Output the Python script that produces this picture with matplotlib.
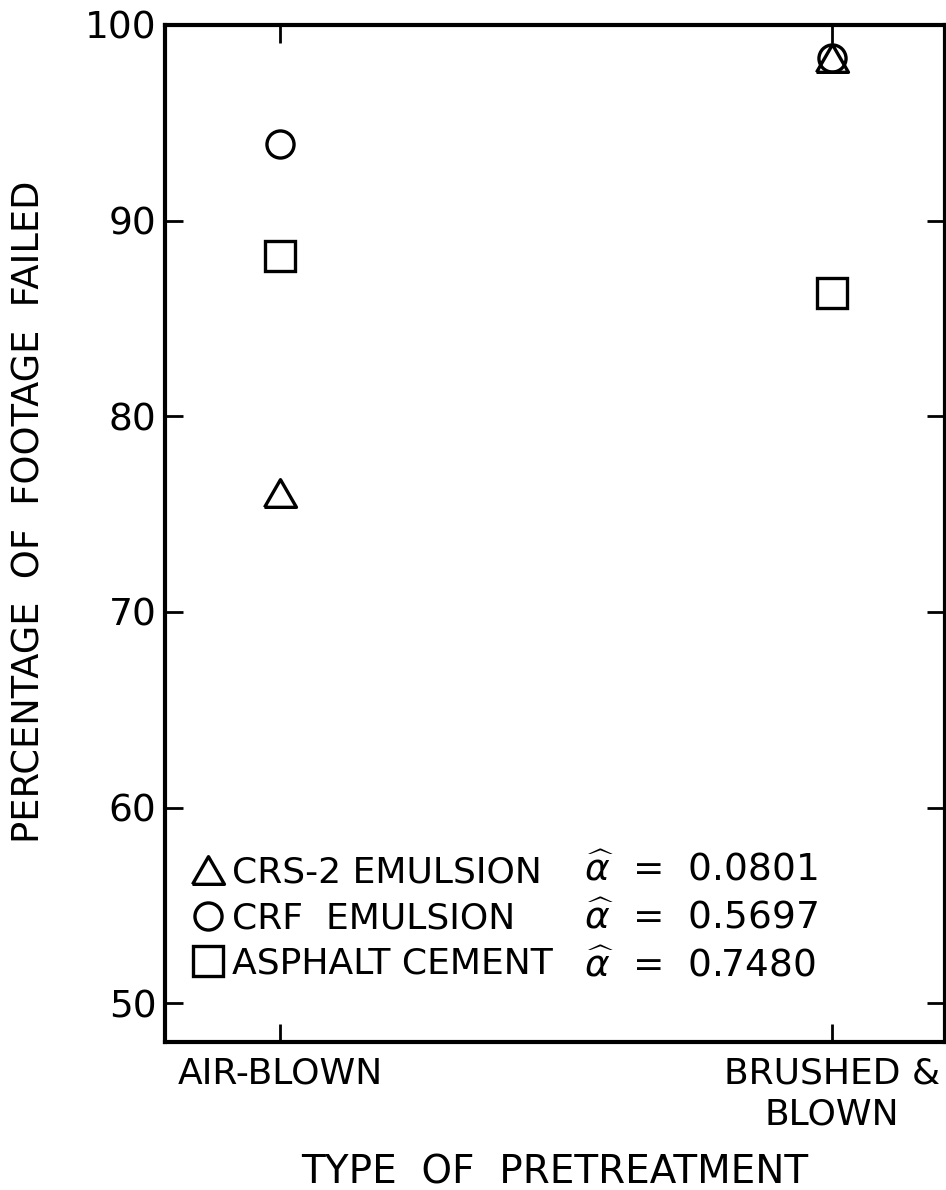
import numpy as np
import matplotlib.pyplot as plt
from matplotlib.lines import Line2D

plt.rcParams['font.family'] = ['DejaVu Sans']

# data
treatments = ['AIR-BLOWN', 'BRUSHED &\nBLOWN']
x_pos = [1, 2]
crs2 = [76.1, 98.3]       # triangle
crf = [93.9, 98.3]        # circle
asphalt = [88.2, 86.3]    # square
series_names = ['CRS-2 EMULSION', 'CRF  EMULSION', 'ASPHALT CEMENT']
alpha_hat = ['0.0801', '0.5697', '0.7480']
yticks = [50, 60, 70, 80, 90, 100]

# equilateral triangle like the hand-drawn one
tri = [(-1, -0.866), (1, -0.866), (0, 0.866), (-1, -0.866)]
markers = [(tri, 23), ('o', 19.5), ('s', 21)]

fig = plt.figure(figsize=(9.46, 11.9), dpi=100)
ax = fig.add_axes([0.174, 0.124, 0.825, 0.855])

mk = dict(linestyle='none', markerfacecolor='none', markeredgecolor='black',
          markeredgewidth=2.4)
for ys, (m, s) in zip([crs2, crf, asphalt], markers):
    ax.plot(x_pos, ys, marker=m, markersize=s, clip_on=False, **mk)

ax.set_xlim(0.79, 2.205)
ax.set_ylim(48, 100)
ax.set_yticks(yticks)
ax.set_xticks(x_pos)
ax.set_xticklabels(treatments, fontsize=26, linespacing=1.25)
ax.tick_params(axis='y', labelsize=27, pad=6)
ax.tick_params(axis='x', pad=10)
ax.tick_params(direction='in', length=13, width=2, top=True, right=True)
for s in ax.spines.values():
    s.set_linewidth(3)

ax.set_ylabel('PERCENTAGE  OF  FOOTAGE  FAILED', fontsize=26.5)
ax.yaxis.set_label_coords(-0.150, 0.522)
ax.set_xlabel('TYPE  OF  PRETREATMENT', fontsize=28, va='center')
ax.xaxis.set_label_coords(0.5, -0.128)

handles = [Line2D([], [], marker=m, markersize=s, **mk) for m, s in markers]
ax.legend(handles, series_names, loc='center left', bbox_to_anchor=(0.035, 0.122),
          frameon=False, fontsize=26, handletextpad=0.2, handlelength=0.9,
          labelspacing=0.32, borderaxespad=0, borderpad=0)

row_y = [0.169, 0.122, 0.075]
for yy, a in zip(row_y, alpha_hat):
    ax.text(0.538, yy, r'$\widehat{\alpha}$  =  ' + a,
            transform=ax.transAxes, fontsize=27, va='center', ha='left')

fig.savefig('out.png', dpi=100)
